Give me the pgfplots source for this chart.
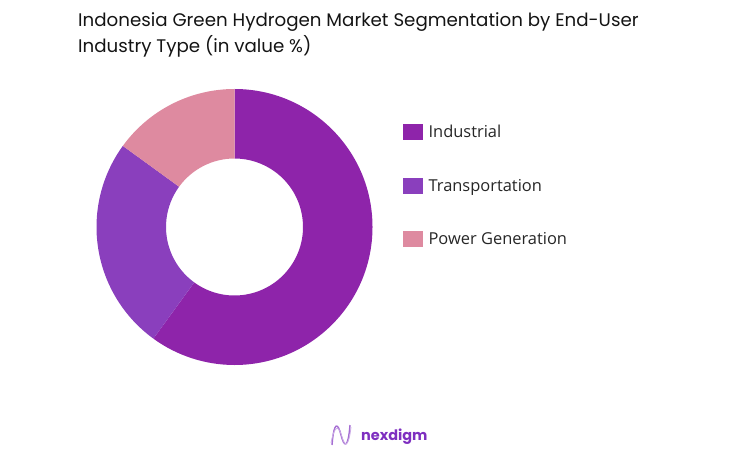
\documentclass[border=0pt]{standalone}
\usepackage{pgfplots}
\pgfplotsset{compat=1.18}
\usepackage{fontspec}
\setmainfont{Open Sans}
\newfontfamily\titlefont{Poppins}
\definecolor{ind}{HTML}{8E24AA}
\definecolor{tra}{HTML}{8A3FBD}
\definecolor{pow}{HTML}{DE8AA0}
\definecolor{brand}{HTML}{7E2FC0}
% shares in percent
\def\vInd{60}
\def\vTra{25}
\def\vPow{15}
\def\rOut{138}
\def\rIn{68.5}
\begin{document}
\begin{tikzpicture}[x=1bp,y=1bp]
\path (0,0) rectangle (731,-457);
% title
\node[anchor=base west, inner sep=0, font=\titlefont\fontsize{18.3}{24}\selectfont, text=black!92]
  at (78,-27) {Indonesia Green Hydrogen Market Segmentation by End-User};
\node[anchor=base west, inner sep=0, font=\titlefont\fontsize{18.3}{24}\selectfont, text=black!92]
  at (78,-53) {Industry Type (in value \%)};
\begin{axis}[
    at={(234.5,-227)}, anchor=center,
    x=1bp, y=1bp,
    xmin=-150, xmax=150, ymin=-150, ymax=150,
    hide axis,
    legend style={at={(1.06,0.847)}, anchor=north west, draw=none, fill=none,
      font=\fontsize{16.5}{19}\selectfont, text=black!85,
      row sep=36bp, column sep=4.5bp, inner sep=0pt},
    legend cell align=left,
    legend image code/.code={\fill[#1] (0bp,-7bp) rectangle (19bp,8bp);},
  ]
  \addlegendimage{ind}\addlegendentry{Industrial}
  \addlegendimage{tra}\addlegendentry{Transportation}
  \addlegendimage{pow}\addlegendentry{Power Generation}
  % Industrial
  \fill[ind] (axis cs:{\rOut*cos(90)},{\rOut*sin(90)})
    arc[start angle=90, end angle={90-3.6*\vInd}, radius=\rOut bp]
    -- (axis cs:{\rIn*cos(90-3.6*\vInd)},{\rIn*sin(90-3.6*\vInd)})
    arc[start angle={90-3.6*\vInd}, end angle=90, radius=\rIn bp] -- cycle;
  % Transportation
  \fill[tra] (axis cs:{\rOut*cos(90-3.6*\vInd)},{\rOut*sin(90-3.6*\vInd)})
    arc[start angle={90-3.6*\vInd}, end angle={90-3.6*(\vInd+\vTra)}, radius=\rOut bp]
    -- (axis cs:{\rIn*cos(90-3.6*(\vInd+\vTra))},{\rIn*sin(90-3.6*(\vInd+\vTra))})
    arc[start angle={90-3.6*(\vInd+\vTra)}, end angle={90-3.6*\vInd}, radius=\rIn bp] -- cycle;
  % Power Generation
  \fill[pow] (axis cs:{\rOut*cos(90-3.6*(\vInd+\vTra))},{\rOut*sin(90-3.6*(\vInd+\vTra))})
    arc[start angle={90-3.6*(\vInd+\vTra)}, end angle={90-3.6*(\vInd+\vTra+\vPow)}, radius=\rOut bp]
    -- (axis cs:{\rIn*cos(90-3.6*(\vInd+\vTra+\vPow))},{\rIn*sin(90-3.6*(\vInd+\vTra+\vPow))})
    arc[start angle={90-3.6*(\vInd+\vTra+\vPow)}, end angle={90-3.6*(\vInd+\vTra)}, radius=\rIn bp] -- cycle;
\end{axis}
% logo
\draw[brand!70, line width=1.4bp] (332,-445) .. controls (334,-420) and (338,-423) .. (341,-435)
  .. controls (344,-447) and (348,-450) .. (350,-425);
\draw[brand!40, line width=0.8bp] (331,-443) .. controls (335,-423) and (339,-426) .. (342,-437)
  .. controls (345,-448) and (349,-446) .. (351,-427);
\node[anchor=base west, inner sep=0, font=\titlefont\bfseries\fontsize{14.5}{17}\selectfont, text=brand]
  at (361,-440) {nexdigm};
\end{tikzpicture}
\end{document}
